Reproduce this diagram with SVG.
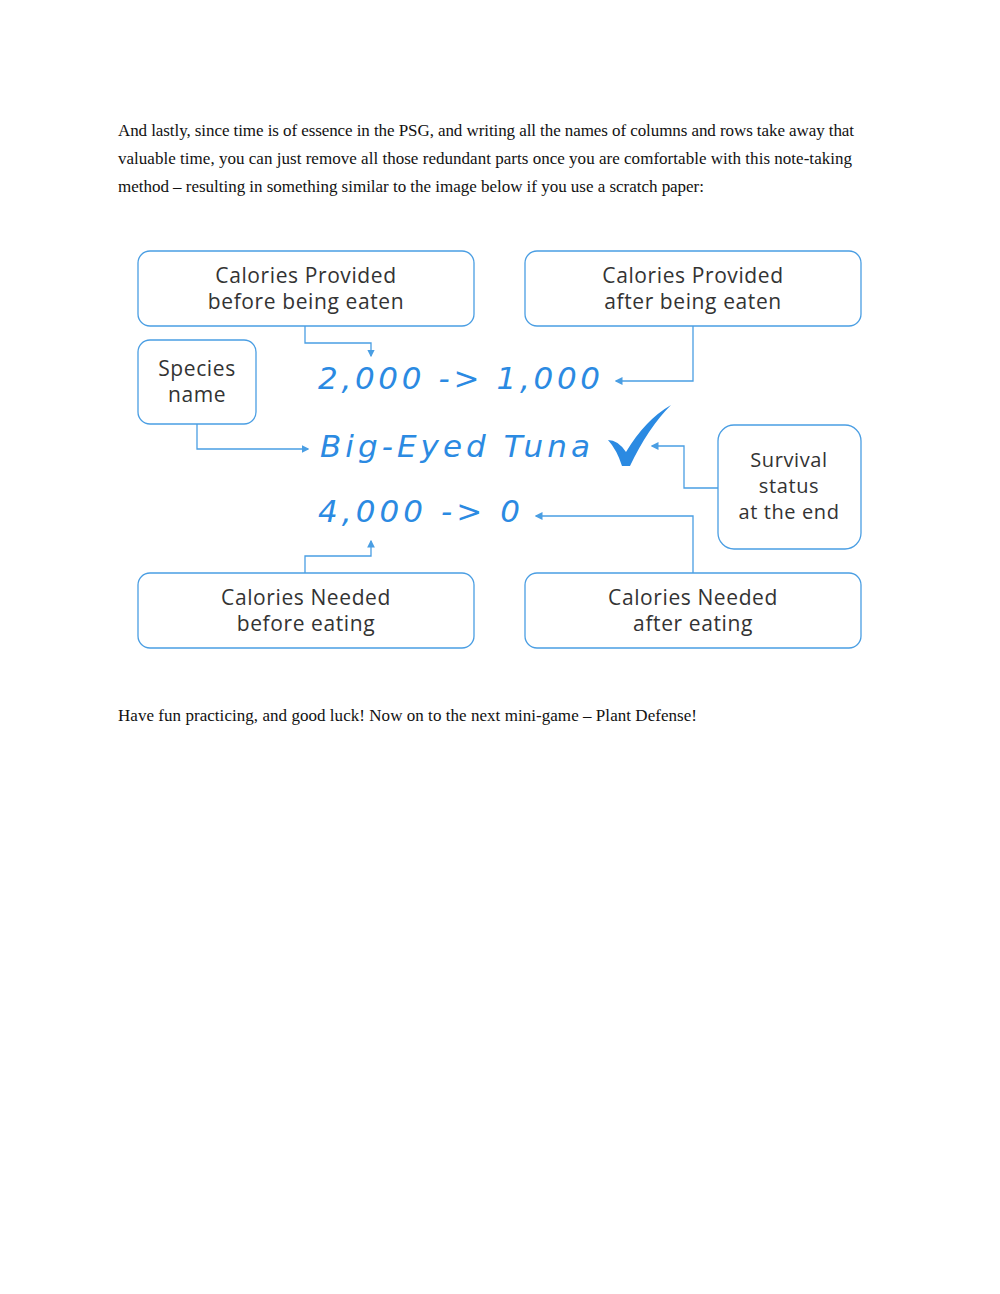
<svg xmlns="http://www.w3.org/2000/svg" width="1000" height="1294" viewBox="0 0 1000 1294">
<style>
.p{font-family:"Liberation Serif",serif;font-size:17px;fill:#111}
.box{fill:#fff;stroke:#4a9ee3;stroke-width:1.3}
.lb{font-family:"Open Sans","DejaVu Sans",sans-serif;font-size:21px;letter-spacing:0.6px;fill:#333;text-anchor:middle}
.sm{font-size:20px}
.hw{font-family:"DejaVu Sans",sans-serif;font-style:italic;font-size:31px;fill:#2b8ae2}
.c{fill:none;stroke:#4a9ee3;stroke-width:1.3}
</style>
<defs><marker id="a" viewBox="0 0 6 6" refX="5" refY="3" markerWidth="6" markerHeight="6" orient="auto"><path d="M0,0L6,3L0,6z" fill="#4a9ee3"/></marker></defs>
<rect width="1000" height="1294" fill="#fff"/>
<text class="p" x="118" y="136" textLength="736">And lastly, since time is of essence in the PSG, and writing all the names of columns and rows take away that</text>
<text class="p" x="118" y="164" textLength="734">valuable time, you can just remove all those redundant parts once you are comfortable with this note-taking</text>
<text class="p" x="118" y="192" textLength="586">method – resulting in something similar to the image below if you use a scratch paper:</text>
<text class="p" x="118" y="721" textLength="579">Have fun practicing, and good luck! Now on to the next mini-game – Plant Defense!</text>
<g id="n1"><rect class="box" x="138" y="251" width="336" height="75" rx="12"/><text class="lb" x="306" y="283">Calories Provided</text><text class="lb" x="306" y="309">before being eaten</text></g>
<g id="n2"><rect class="box" x="525" y="251" width="336" height="75" rx="12"/><text class="lb" x="693" y="283">Calories Provided</text><text class="lb" x="693" y="309">after being eaten</text></g>
<g id="n3"><rect class="box" x="138" y="340" width="118" height="84" rx="12"/><text class="lb" x="197" y="376">Species</text><text class="lb" x="197" y="402">name</text></g>
<g id="n4"><rect class="box" x="718" y="425" width="143" height="124" rx="16"/><text class="lb sm" x="789" y="467">Survival</text><text class="lb sm" x="789" y="493">status</text><text class="lb sm" x="789" y="519">at the end</text></g>
<g id="n5"><rect class="box" x="138" y="573" width="336" height="75" rx="12"/><text class="lb" x="306" y="605">Calories Needed</text><text class="lb" x="306" y="631">before eating</text></g>
<g id="n6"><rect class="box" x="525" y="573" width="336" height="75" rx="12"/><text class="lb" x="693" y="605">Calories Needed</text><text class="lb" x="693" y="631">after eating</text></g>
<g id="t">
<text class="hw" x="318" y="389" textLength="282">2,000  -&gt; 1,000</text>
<text class="hw" x="320" y="457" textLength="270">Big-Eyed Tuna</text>
<text class="hw" x="318" y="522" textLength="202">4,000  -&gt; 0</text>
<path d="M608,440 Q618,440 626,452 Q645,420 671,405 Q648,428 630,466 L622,466 Q617,450 608,440z" fill="#2b8ae2"/>
</g>
<g id="connectors">
<path class="c" d="M305,326V343H371V356" marker-end="url(#a)"/>
<path class="c" d="M693,326V381H616" marker-end="url(#a)"/>
<path class="c" d="M197,424V449H308" marker-end="url(#a)"/>
<path class="c" d="M718,488H684V446H652" marker-end="url(#a)"/>
<path class="c" d="M693,573V516H536" marker-end="url(#a)"/>
<path class="c" d="M305,573V556H371V541" marker-end="url(#a)"/>
</g>
</svg>
